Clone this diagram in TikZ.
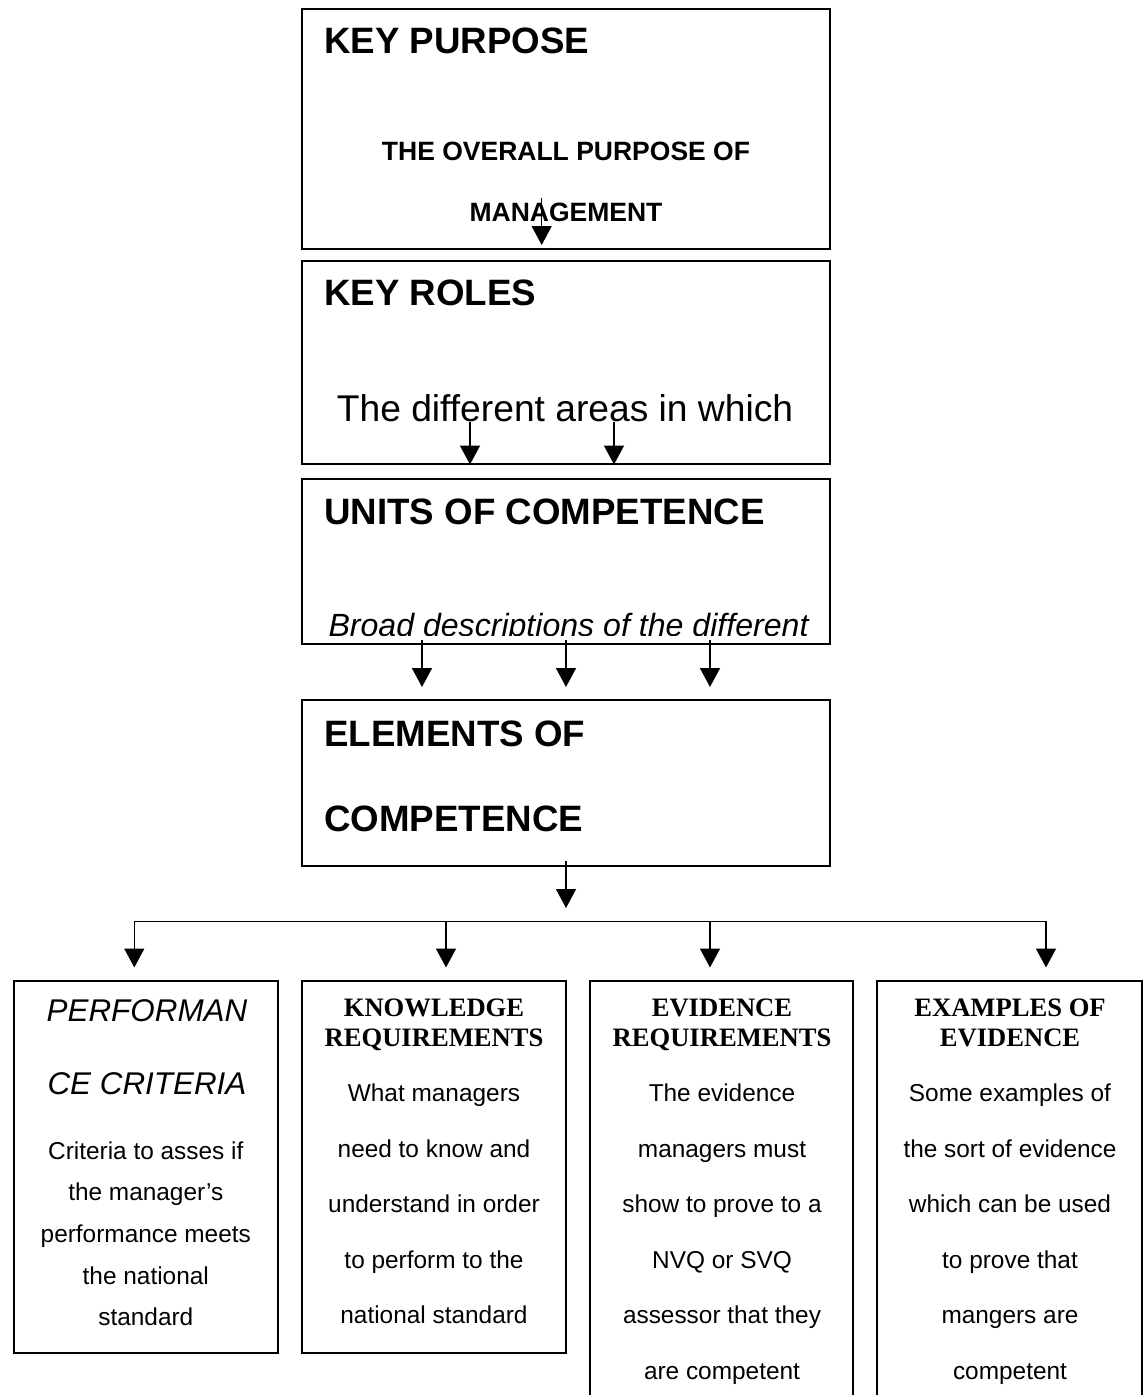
\documentclass[tikz,border=0pt]{standalone}
\usepackage{fontspec}
\setmainfont{Liberation Sans}
\newfontfamily\timesfont{Liberation Serif}
\usetikzlibrary{arrows.meta}

\tikzset{
  box/.style={draw, line width=2pt, rectangle, anchor=north west, inner sep=0pt, outer sep=0pt},
  arr/.style={line width=1.5pt, -{Triangle[width=20pt,length=19pt]}},
  bus/.style={line width=1.5pt},
  bighead/.style={anchor=base west, inner sep=0pt, font=\bfseries\fontsize{36.7pt}{44pt}\selectfont},
  subhead/.style={anchor=base, inner sep=0pt, font=\bfseries\fontsize{26.5pt}{32pt}\selectfont},
  rolestext/.style={anchor=base, inner sep=0pt, font=\fontsize{37.2pt}{44pt}\selectfont},
  unitstext/.style={anchor=base, inner sep=0pt, font=\itshape\fontsize{32.1pt}{40pt}\selectfont},
  pchead/.style={anchor=base, inner sep=0pt, font=\itshape\fontsize{31.4pt}{38pt}\selectfont},
  colhead/.style={anchor=base, inner sep=0pt, font=\timesfont\bfseries\fontsize{26.6pt}{32pt}\selectfont},
  body/.style={anchor=base, inner sep=0pt, font=\fontsize{24.4pt}{30pt}\selectfont}
}

\begin{document}
\begin{tikzpicture}[x=1pt,y=-1pt]
  \useasboundingbox (0,0) rectangle (1147,1395);
  \fill[white] (0,0) rectangle (1147,1395);
  \clip (0,0) rectangle (1147,1395);

  % --- main column of boxes ---
  \node[box, minimum width=528pt, minimum height=239.4pt] (kp) at (302,9.3) {};
  \node[box, minimum width=528pt, minimum height=203.3pt] (kr) at (302,261) {};
  \node[box, minimum width=528pt, minimum height=165.3pt] (uc) at (302,479) {};
  \node[box, minimum width=528pt, minimum height=165.7pt] (ec) at (302,700) {};

  % key purpose
  \node[bighead] (kptitle) at (324,53.3) {KEY PURPOSE};
  \node[subhead] (kpline1) at (566,160) {THE OVERALL PURPOSE OF};
  \node[subhead] (kpline2) at (566,221.7) {MANAGEMENT};

  % key roles
  \node[bighead] (krtitle) at (324,305) {KEY ROLES};
  \node[rolestext] (krtext) at (565,421.7) {The different areas in which};

  % units of competence (description cut off by the box)
  \node[bighead] (uctitle) at (324,524) {UNITS OF COMPETENCE};
  \begin{scope}
    \clip (302,595) rectangle (830,635);
    \node[unitstext] (uctext) at (568.5,636.5) {Broad descriptions of the different};
  \end{scope}

  % elements of competence
  \node[bighead] (ectitle1) at (324,746) {ELEMENTS OF};
  \node[bighead] (ectitle2) at (324,831.7) {COMPETENCE};

  % --- arrows between the main boxes ---
  \coordinate (a0s) at (541.7,198);   \coordinate (a0e) at (541.7,245);
  \coordinate (a1s) at (470,421.7);   \coordinate (a1e) at (470,464.5);
  \coordinate (a2s) at (614,421.7);   \coordinate (a2e) at (614,464.5);
  \coordinate (a3s) at (422,640);     \coordinate (a3e) at (422,687);
  \coordinate (a4s) at (566,640);     \coordinate (a4e) at (566,687);
  \coordinate (a5s) at (710,640);     \coordinate (a5e) at (710,687);
  \coordinate (a6s) at (566,861);     \coordinate (a6e) at (566,908);
  \foreach \k in {0,...,6} \draw[arr] (a\k s) -- (a\k e);

  % --- distribution bar to the four columns ---
  \coordinate (b1) at (134.3,921.7);  \coordinate (t1) at (134.3,967.5);
  \coordinate (b2) at (446,921.7);    \coordinate (t2) at (446,967.5);
  \coordinate (b3) at (710,921.7);    \coordinate (t3) at (710,967.5);
  \coordinate (b4) at (1046,921.7);   \coordinate (t4) at (1046,967.5);
  \draw[bus] (b2) -- (b3);
  \draw[arr] (b2) -- (b1) -- (t1);
  \draw[arr] (b3) -- (b4) -- (t4);
  \draw[arr] (b2) -- (t2);
  \draw[arr] (b3) -- (t3);

  % --- bottom row of boxes ---
  \node[box, minimum width=263.7pt, minimum height=371.7pt] (pc) at (14,981) {};
  \node[box, minimum width=264.3pt, minimum height=371.7pt] (kn) at (301.7,981) {};
  \node[box, minimum width=263.4pt, minimum height=440pt] (ev) at (590,981) {};
  \node[box, minimum width=265pt, minimum height=440pt] (ex) at (877.3,981) {};

  % performance criteria
  \node[pchead] (pchead1) at (147,1021.7) {PERFORMAN};
  \node[pchead] (pchead2) at (147,1094.3) {CE CRITERIA};
  \foreach \t [count=\i] in {Criteria to asses if, the manager’s, performance meets, the national, standard}
    \node[body] (pcbody\i) at (145.8,{1159.3+(\i-1)*41.6}) {\t};

  % knowledge requirements
  \node[colhead] (knhead1) at (434,1016.7) {KNOWLEDGE};
  \node[colhead] (knhead2) at (434,1046.7) {REQUIREMENTS};
  \foreach \t [count=\i] in {What managers, need to know and, understand in order, to perform to the, national standard}
    \node[body] (knbody\i) at (434,{1101.7+(\i-1)*55.5}) {\t};

  % evidence requirements
  \node[colhead] (evhead1) at (722,1016.7) {EVIDENCE};
  \node[colhead] (evhead2) at (722,1046.7) {REQUIREMENTS};
  \foreach \t [count=\i] in {The evidence, managers must, show to prove to a, NVQ or SVQ, assessor that they, are competent}
    \node[body] (evbody\i) at (722,{1101.7+(\i-1)*55.5}) {\t};

  % examples of evidence
  \node[colhead] (exhead1) at (1010,1016.7) {EXAMPLES OF};
  \node[colhead] (exhead2) at (1010,1046.7) {EVIDENCE};
  \foreach \t [count=\i] in {Some examples of, the sort of evidence, which can be used, to prove that, mangers are, competent}
    \node[body] (exbody\i) at (1010,{1101.7+(\i-1)*55.5}) {\t};
\end{tikzpicture}
\end{document}
